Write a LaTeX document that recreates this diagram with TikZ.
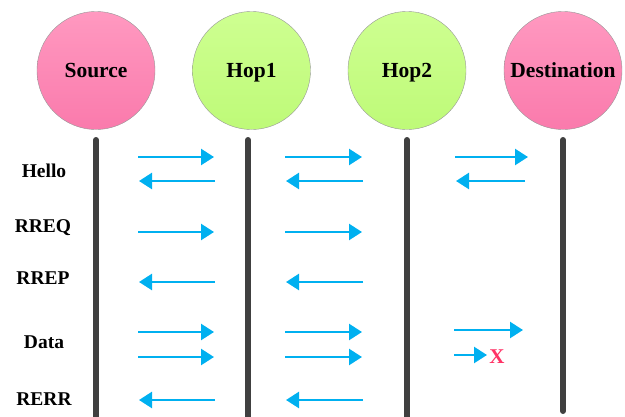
\documentclass[tikz,border=0pt]{standalone}
\usepackage{fontspec}
\setmainfont{Liberation Serif}
\usetikzlibrary{arrows.meta}
\definecolor{msgblue}{RGB}{0,176,240}
\definecolor{lifegray}{RGB}{64,64,64}
\definecolor{xred}{RGB}{255,51,102}
\tikzset{
  x=1pt, y=-1pt,
  hostnode/.style={circle, minimum size=118pt, inner sep=0pt, draw={rgb,255:red,150;green,150;blue,150}, line width=0.4pt,
    text height=16pt, text depth=2pt, font=\bfseries\fontsize{21.5}{24}\selectfont},
  pinknode/.style={hostnode, top color={rgb,255:red,255;green,153;blue,192}, bottom color={rgb,255:red,250;green,122;blue,172}},
  greennode/.style={hostnode, top color={rgb,255:red,206;green,255;blue,145}, bottom color={rgb,255:red,190;green,250;blue,120}},
  lifeline/.style={line width=6pt, color=lifegray, line cap=round},
  msg/.style={line width=2.5pt, color=msgblue, -{Triangle[length=13pt,width=16pt]}},
  rowlabel/.style={font=\bfseries\fontsize{19.5}{22}\selectfont, inner sep=0pt},
}
\begin{document}
\begin{tikzpicture}
\useasboundingbox (0,0) rectangle (625,416);
% nodes
\node[pinknode] (src) at (96,70.5) {Source};
\node[greennode] (hop1) at (251.5,70.5) {Hop1};
\node[greennode] (hop2) at (407,70.5) {Hop2};
\node[pinknode] (dst) at (563,70.5) {Destination};
% lifelines
\coordinate (srcT) at (96,140); \coordinate (srcB) at (96,425);
\coordinate (h1T) at (248,140); \coordinate (h1B) at (248,425);
\coordinate (h2T) at (407,140); \coordinate (h2B) at (407,425);
\coordinate (dT) at (563,140); \coordinate (dB) at (563,411);
\draw[lifeline] (srcT) -- (srcB);
\draw[lifeline] (h1T) -- (h1B);
\draw[lifeline] (h2T) -- (h2B);
\draw[lifeline] (dT) -- (dB);
% row labels
\node[rowlabel] (lHello) at (44,171) {Hello};
\node[rowlabel] (lRREQ) at (43,228) {RREQ};
\node[rowlabel] (lRREP) at (43,278) {RREP};
\node[rowlabel] (lData) at (44,342) {Data};
\node[rowlabel] (lRERR) at (44,399) {RERR};
% right-going arrows (segments 1 and 2)
\foreach \y [count=\i] in {157,232,332,357}{
  \coordinate (a\i s) at (138,\y); \coordinate (a\i e) at (214,\y);
  \coordinate (b\i s) at (285,\y); \coordinate (b\i e) at (362,\y);
  \draw[msg] (a\i s) -- (a\i e);
  \draw[msg] (b\i s) -- (b\i e);
}
% left-going arrows (segments 1 and 2)
\foreach \y [count=\i] in {181,282,400}{
  \coordinate (c\i s) at (215,\y); \coordinate (c\i e) at (139,\y);
  \coordinate (d\i s) at (363,\y); \coordinate (d\i e) at (286,\y);
  \draw[msg] (c\i s) -- (c\i e);
  \draw[msg] (d\i s) -- (d\i e);
}
% segment 3
\coordinate (e1s) at (455,157); \coordinate (e1e) at (528,157);
\coordinate (e2s) at (525,181); \coordinate (e2e) at (456,181);
\coordinate (e3s) at (454,330); \coordinate (e3e) at (523,330);
\coordinate (e4s) at (454,355); \coordinate (e4e) at (487,355);
\draw[msg] (e1s) -- (e1e);
\draw[msg] (e2s) -- (e2e);
\draw[msg] (e3s) -- (e3e);
\draw[msg] (e4s) -- (e4e);
\node[font=\bfseries\fontsize{21}{24}\selectfont, text=xred, inner sep=0pt] (xmark) at (497,357) {X};
\end{tikzpicture}
\end{document}
